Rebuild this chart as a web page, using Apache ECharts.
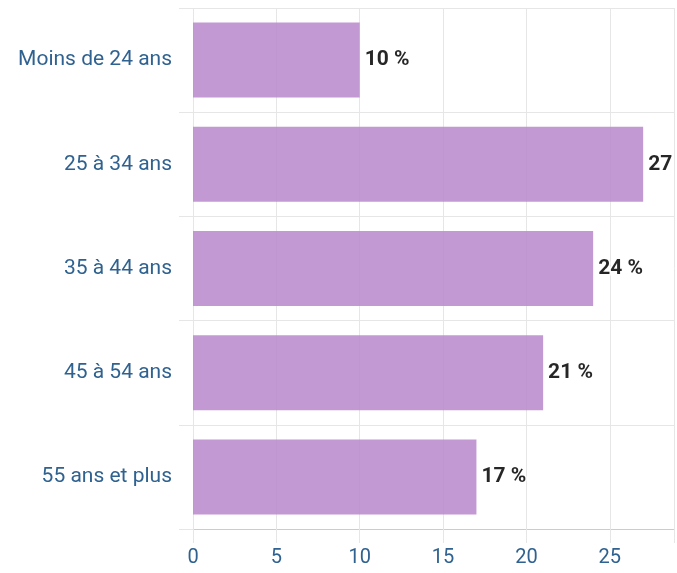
<!DOCTYPE html>
<html>
<head>
<meta charset="utf-8">
<script src="https://cdn.jsdelivr.net/npm/echarts@6/dist/echarts.min.js"></script>
<style>
html,body{margin:0;padding:0;background:#fff;}
#chart{width:677px;height:573px;}
</style>
</head>
<body>
<div id="chart"></div>
<script>
var categories = ["Moins de 24 ans", "25 à 34 ans", "35 à 44 ans", "45 à 54 ans", "55 ans et plus"];
var values = [10, 27, 24, 21, 17];
var xTicks = [0, 5, 10, 15, 20, 25];

var chart = echarts.init(document.getElementById('chart'));
var labelColor = '#2f6290';
var gridColor = '#e6e6e6';
chart.setOption({
  animation: false,
  grid: { left: 193, top: 8, bottom: 44, right: 0, containLabel: false },
  xAxis: {
    type: 'value', min: 0, max: 28.85, interval: 5,
    axisLine: { show: true, lineStyle: { color: '#cccccc', width: 1 } },
    axisTick: { show: true, length: 14, lineStyle: { color: gridColor } },
    splitLine: { show: true, lineStyle: { color: gridColor, width: 1 } },
    axisLabel: {
      color: labelColor, fontSize: 20, fontFamily: 'Roboto', margin: 19,
      formatter: function (v) { return xTicks.indexOf(v) >= 0 ? String(v) : ''; }
    }
  },
  yAxis: {
    type: 'category', data: categories, inverse: true,
    axisLine: { show: false },
    axisTick: { show: true, length: 14, lineStyle: { color: gridColor } },
    splitLine: { show: true, lineStyle: { color: gridColor, width: 1 } },
    axisLabel: { color: labelColor, fontSize: 21, fontFamily: 'Roboto', margin: 21 }
  },
  series: [{
    type: 'bar', data: values, barCategoryGap: '28%',
    itemStyle: { color: '#b887cb', opacity: 0.85 },
    label: {
      show: true, position: 'right', distance: 5,
      formatter: function (p) { return p.value + ' %'; },
      color: '#000', fontWeight: 'bold', fontSize: 21, fontFamily: 'Roboto',
      textBorderColor: '#fff', textBorderWidth: 3
    }
  }]
});
</script>
</body>
</html>
